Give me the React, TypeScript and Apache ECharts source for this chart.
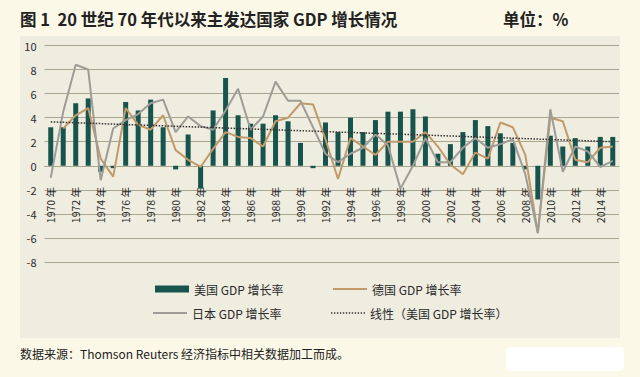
import { useEffect, useRef } from "react";
import * as echarts from "echarts";

const categories = [
  "1970 年", "1971 年", "1972 年", "1973 年", "1974 年", "1975 年", "1976 年", "1977 年", "1978 年", "1979 年",
  "1980 年", "1981 年", "1982 年", "1983 年", "1984 年", "1985 年", "1986 年", "1987 年", "1988 年", "1989 年",
  "1990 年", "1991 年", "1992 年", "1993 年", "1994 年", "1995 年", "1996 年", "1997 年", "1998 年", "1999 年",
  "2000 年", "2001 年", "2002 年", "2003 年", "2004 年", "2005 年", "2006 年", "2007 年", "2008 年", "2009 年",
  "2010 年", "2011 年", "2012 年", "2013 年", "2014 年", "2015 年",
];

const usGrowth = [
  3.2, 3.2, 5.2, 5.6, -0.5, -0.2, 5.3, 4.6, 5.5, 3.2,
  -0.3, 2.6, -1.9, 4.6, 7.3, 4.2, 3.5, 3.5, 4.2, 3.7,
  1.9, -0.2, 3.6, 2.8, 4.0, 2.8, 3.8, 4.5, 4.5, 4.7,
  4.1, 1.0, 1.8, 2.8, 3.8, 3.3, 2.7, 1.9, -0.3, -2.8,
  2.5, 1.6, 2.3, 1.6, 2.4, 2.4,
];

const germanyGrowth = [
  null, 3.1, 4.2, 4.8, 0.6, -0.9, 4.8, 3.4, 3.0, 4.2,
  1.3, 0.5, -0.1, 1.4, 2.8, 2.4, 2.3, 1.6, 3.7, 4.0,
  5.2, 5.1, 2.2, -1.1, 2.3, 1.6, 0.9, 2.0, 2.0, 2.0,
  2.8, 1.6, 0.1, -0.7, 1.1, 0.6, 3.6, 3.2, 0.9, -5.6,
  4.0, 3.7, 0.5, 0.3, 1.5, 1.6,
];

const japanGrowth = [
  -1.0, 4.5, 8.4, 8.0, -1.2, 3.1, 3.8, 4.3, 5.2, 5.5,
  2.8, 4.1, 3.3, 3.0, 4.6, 6.4, 3.0, 4.1, 7.0, 5.4,
  5.4, 3.2, 1.0, 0.3, 1.0, 1.5, 2.6, 1.7, -1.9, 0.0,
  2.3, 0.3, 0.3, 1.5, 2.3, 1.5, 1.8, 2.2, -0.7, -5.6,
  4.7, -0.5, 1.6, 1.2, -0.1, 0.4,
];

// US linear trend line, end values (1970, 2015)
const trendEnds = [3.65, 2.0];

const yTicks = { min: -8, max: 10, interval: 2 };

const seriesNames = ["美国 GDP 增长率", "德国 GDP 增长率", "日本 GDP 增长率", "线性（美国 GDP 增长率）"];

const FONT = "'Noto Sans CJK SC', 'Noto Sans', sans-serif";

const DOTTED_ICON =
  "path://M0,0h1.4v1.4h-1.4z M3,0h1.4v1.4h-1.4z M6,0h1.4v1.4h-1.4z M9,0h1.4v1.4h-1.4z M12,0h1.4v1.4h-1.4z M15,0h1.4v1.4h-1.4z M18,0h1.4v1.4h-1.4z M21,0h1.4v1.4h-1.4z M24,0h1.4v1.4h-1.4z M27,0h1.4v1.4h-1.4z M30,0h1.4v1.4h-1.4z M33,0h1.4v1.4h-1.4z";

export default function App() {
  const ref = useRef<HTMLDivElement>(null);

  useEffect(() => {
    if (!ref.current) return;
    const chart = echarts.init(ref.current, undefined, { renderer: "svg" });
    const legendText = { fontFamily: FONT, fontSize: 12, color: "#2a2a2a" };
    chart.setOption({
      animation: false,
      backgroundColor: "#fbf8e8",
      textStyle: { fontFamily: FONT },
      graphic: [
        {
          type: "rect",
          z: -10,
          shape: { x: 20, y: 36, width: 600, height: 302 },
          style: { fill: "#efede0" },
          silent: true,
        },
        {
          type: "text",
          x: 20,
          y: 19,
          style: {
            text: "图 1  20 世纪 70 年代以来主发达国家 GDP 增长情况",
            fontFamily: FONT,
            fontSize: 16.5,
            fontWeight: "bold",
            fill: "#222",
            verticalAlign: "middle",
          },
        },
        {
          type: "text",
          x: 503,
          y: 19,
          style: {
            text: "单位：%",
            fontFamily: FONT,
            fontSize: 16.5,
            fontWeight: "bold",
            fill: "#222",
            verticalAlign: "middle",
          },
        },
        {
          type: "text",
          x: 20,
          y: 353,
          style: {
            text: "数据来源：Thomson Reuters 经济指标中相关数据加工而成。",
            fontFamily: FONT,
            fontSize: 12,
            fill: "#222",
            verticalAlign: "middle",
          },
        },
        {
          type: "rect",
          shape: { x: 506, y: 347, width: 118, height: 24, r: 5 },
          style: { fill: "#ffffff" },
          silent: true,
        },
      ],
      legend: [
        {
          data: [seriesNames[0]],
          left: 150,
          top: 278,
          icon: "rect",
          itemWidth: 34,
          itemHeight: 7,
          textStyle: legendText,
        },
        {
          data: [seriesNames[1]],
          left: 328,
          top: 278,
          icon: "rect",
          itemWidth: 34,
          itemHeight: 2,
          textStyle: legendText,
        },
        {
          data: [seriesNames[2]],
          left: 148,
          top: 302,
          icon: "rect",
          itemWidth: 34,
          itemHeight: 2,
          textStyle: legendText,
        },
        {
          data: [seriesNames[3]],
          left: 326,
          top: 302,
          icon: DOTTED_ICON,
          itemWidth: 34,
          itemHeight: 1.4,
          textStyle: legendText,
        },
      ],
      grid: { left: 44.5, right: 21, top: 45.5, bottom: 115, containLabel: false },
      xAxis: {
        type: "category",
        data: categories,
        boundaryGap: true,
        position: "bottom",
        offset: -96,
        axisLine: { show: true, onZero: false, lineStyle: { color: "#a9a690", width: 1 } },
        axisTick: { show: false },
        axisLabel: {
          interval: 1,
          rotate: 90,
          margin: 21,
          fontSize: 10.5,
          color: "#2a2a2a",
          fontFamily: FONT,
        },
        splitLine: { show: false },
      },
      yAxis: {
        type: "value",
        min: yTicks.min,
        max: yTicks.max,
        interval: yTicks.interval,
        axisLine: { show: false },
        axisTick: { show: false },
        axisLabel: { margin: 8, fontSize: 11, color: "#2a2a2a", fontFamily: FONT },
        splitLine: { show: true, lineStyle: { color: "#a9a690", width: 1 } },
      },
      series: [
        {
          name: seriesNames[0],
          type: "bar",
          data: usGrowth,
          barWidth: 5,
          itemStyle: { color: "#17544d" },
          z: 2,
        },
        {
          name: seriesNames[1],
          type: "line",
          data: germanyGrowth,
          symbol: "none",
          lineStyle: { color: "#c29a69", width: 2 },
          itemStyle: { color: "#c29a69" },
          z: 3,
        },
        {
          name: seriesNames[2],
          type: "line",
          data: japanGrowth,
          symbol: "none",
          lineStyle: { color: "#9d9c96", width: 2 },
          itemStyle: { color: "#9d9c96" },
          z: 3,
        },
        {
          name: seriesNames[3],
          type: "line",
          data: [
            [categories[0], trendEnds[0]],
            [categories[categories.length - 1], trendEnds[1]],
          ],
          symbol: "none",
          lineStyle: { color: "#333333", width: 1.5, type: "dotted" },
          itemStyle: { color: "#333333" },
          z: 4,
        },
      ],
    });
    return () => chart.dispose();
  }, []);

  return (
    <div
      ref={ref}
      style={{ position: "fixed", left: 0, top: 0, width: 640, height: 377 }}
    />
  );
}
